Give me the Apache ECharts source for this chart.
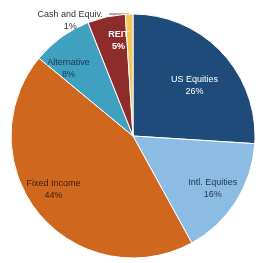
<!DOCTYPE html>
<html lang="en">
<head>
    <meta charset="UTF-8">
    <title>Asset allocation</title>
    <style>
        body { margin: 0; padding: 0; background: #ffffff; }
        #chart { width: 258px; height: 263px; }
    </style>
</head>
<body>
    <div id="chart"></div>
    <script src="https://cdn.jsdelivr.net/npm/echarts@6/dist/echarts.min.js"></script>
    <script>
        var categories = ['US Equities', 'Intl. Equities', 'Fixed Income', 'Alternative', 'REIT', 'Cash and Equiv.'];
        var shares = [26, 16, 44, 8, 5, 1];
        var colors = ['#1f4b7a', '#8cbce3', '#d0671f', '#3fa1bf', '#8e2c2c', '#f2c65c'];
        var textColors = ['#ffffff', '#1c3350', '#3b1e0c', '#1c3350', '#ffffff', '#333333'];
        // nudges for the inside labels, in pixels
        var labelNudges = [[-10, 17], [-3, 0], [-4, -9], [-7, 12], [7, 0], [0, 0]];

        var font = '"Liberation Sans Narrow", "Liberation Sans", sans-serif';
        var center = [133, 136];

        var chart = echarts.init(document.getElementById('chart'));

        var mainData = [];
        var labelData = [];
        for (var i = 0; i < categories.length; i++) {
            var isCash = i === categories.length - 1;
            mainData.push({
                name: categories[i],
                value: shares[i],
                itemStyle: { color: colors[i] },
                label: { show: isCash },
                labelLine: { show: isCash }
            });
            labelData.push({
                name: categories[i],
                value: shares[i],
                label: {
                    show: !isCash,
                    color: textColors[i],
                    fontWeight: i === 4 ? 'bold' : 'normal',
                    offset: labelNudges[i]
                }
            });
        }

        var option = {
            animation: false,
            series: [
                {
                    type: 'pie',
                    center: center,
                    radius: [0, 122],
                    startAngle: 90,
                    clockwise: true,
                    itemStyle: { borderColor: '#ffffff', borderWidth: 1 },
                    label: {
                        position: 'outside',
                        fontFamily: font,
                        fontSize: 9,
                        color: '#333333',
                        padding: [12, 0, 0, 0],
                        formatter: '{a|{b}}\n{a|{d}%}',
                        rich: { a: { width: 68, align: 'center', fontFamily: font, fontSize: 9, color: '#333333', lineHeight: 12 } }
                    },
                    labelLine: { length: 0, length2: 20, lineStyle: { color: '#555555', width: 1 } },
                    emphasis: { disabled: true },
                    data: mainData
                },
                {
                    // transparent ring used only to place the inside labels
                    type: 'pie',
                    center: center,
                    radius: [0, 190],
                    startAngle: 90,
                    clockwise: true,
                    silent: true,
                    itemStyle: { color: 'rgba(0,0,0,0)' },
                    label: {
                        position: 'inside',
                        fontFamily: font,
                        fontSize: 9,
                        lineHeight: 12,
                        formatter: '{b}\n{d}%'
                    },
                    labelLine: { show: false },
                    emphasis: { disabled: true },
                    data: labelData
                }
            ]
        };

        chart.setOption(option);
    </script>
</body>
</html>
